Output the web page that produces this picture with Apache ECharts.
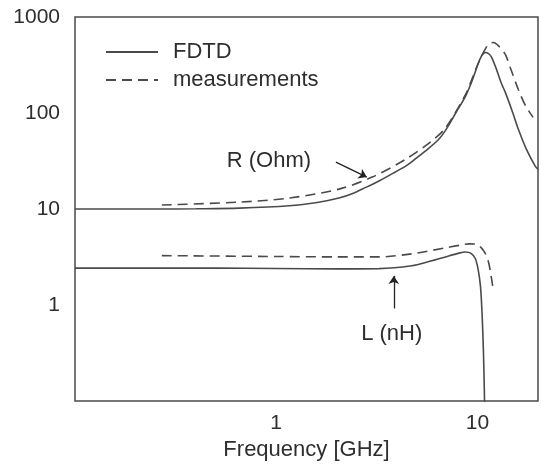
<!DOCTYPE html>
<html><head><meta charset="utf-8">
<script src="https://cdn.jsdelivr.net/npm/echarts@6/dist/echarts.min.js"></script>
<style>html,body{margin:0;padding:0;background:#fff}#c{width:541px;height:472px}</style>
</head><body><div id="c"></div>
<script>
// Frequency [GHz] and values
var rFdtdF = [0.1, 0.25, 0.4, 0.656, 1.16, 1.6, 2.05, 2.4, 2.79, 3.24, 3.8, 4.4, 4.71, 5.5, 6.41, 6.94, 7.8, 8.72, 9.4, 10.1, 10.5, 10.95, 11.35, 11.73, 12.4, 13.1, 13.76, 15.0, 15.96, 17.5, 19.37, 20];
var rFdtdV = [10, 10, 10.05, 10.2, 10.8, 11.7, 13.0, 14.5, 16.8, 19.6, 23.5, 28, 31, 40, 53, 66, 100, 149, 215, 330, 395, 427, 415, 385, 290, 208, 164, 100, 68, 42, 28, 26];
var rMeasF = [0.27, 0.66, 1.16, 2.05, 3.0, 4.4, 5.92, 6.94, 8.72, 9.5, 10.1, 10.8, 11.34, 12.0, 12.8, 13.76, 14.8, 15.96, 17.3, 18.9];
var rMeasV = [11.0, 11.8, 13.0, 16.1, 21.5, 33, 51, 70, 155, 240, 330, 440, 517, 542, 495, 407, 270, 176, 120, 90];
var lFdtdF = [0.1, 0.5, 1, 2, 3.24, 4.71, 5.8, 6.94, 8.0, 8.72, 9.3, 9.77, 10.1, 10.35, 10.55, 10.71, 10.83, 10.9];
var lFdtdV = [2.42, 2.42, 2.40, 2.38, 2.39, 2.56, 2.85, 3.17, 3.45, 3.57, 3.45, 3.03, 2.3, 1.58, 0.8, 0.33, 0.12, 0.05];
var lMeasF = [0.27, 1, 2, 3.24, 4.71, 6.94, 8.2, 9.1, 9.9, 10.35, 10.9, 11.34, 11.7, 12.0];
var lMeasV = [3.27, 3.2, 3.17, 3.17, 3.41, 3.94, 4.2, 4.33, 4.3, 4.03, 3.5, 2.82, 2.0, 1.41];
var xTickLabels = ['1', '10'];
var yTickLabels = ['1', '10', '100', '1000'];
var seriesNames = ['FDTD', 'measurements'];
var annoR = {text: 'R (Ohm)', at: [0.92, 31.5], from: [1.98, 30.8], to: [2.82, 21.5]};
var annoL = {text: 'L (nH)', at: [3.75, 0.5], from: [3.84, 0.92], to: [3.84, 2.01]};

function zip(a, b) { return a.map(function (v, i) { return [v, b[i]]; }); }
function fmt(v) { return String(Math.round(v * 1000) / 1000); }
var col = '#4a4a4a';
var txt = '#2e2e2e';
var font = 'Liberation Sans, Arial, sans-serif';
var solid = {color: col, width: 1.6, type: 'solid'};
var dashed = {color: col, width: 1.6, type: [10, 6]};

var chart = echarts.init(document.getElementById('c'), null, {renderer: 'canvas'});
chart.setOption({
  animation: false,
  backgroundColor: '#ffffff',
  grid: {left: 75, top: 17, right: 3, bottom: 71, show: true, borderColor: col, borderWidth: 1.5, backgroundColor: 'transparent'},
  legend: {
    left: 105, top: 41, orient: 'vertical', itemGap: 6, itemWidth: 52, itemHeight: 14, padding: 0,
    data: seriesNames,
    itemStyle: {color: 'rgba(0,0,0,0)', borderColor: 'rgba(0,0,0,0)', borderWidth: 0, opacity: 0},
    textStyle: {fontFamily: font, fontSize: 22, color: txt, padding: [0, 0, 0, 10]}
  },
  xAxis: {
    type: 'log', logBase: 10, min: 0.1, max: 20,
    name: 'Frequency [GHz]', nameLocation: 'middle', nameGap: 38,
    nameTextStyle: {fontFamily: font, fontSize: 22, color: txt},
    axisLine: {show: false}, axisTick: {show: false}, splitLine: {show: false},
    axisLabel: {fontFamily: font, fontSize: 21, color: txt, margin: 12,
      formatter: function (v) { var s = fmt(v); return xTickLabels.indexOf(s) >= 0 ? s : ''; }}
  },
  yAxis: {
    type: 'log', logBase: 10, min: 0.1, max: 1000,
    axisLine: {show: false}, axisTick: {show: false}, splitLine: {show: false},
    axisLabel: {fontFamily: font, fontSize: 21, color: txt, margin: 15,
      formatter: function (v) { var s = fmt(v); return yTickLabels.indexOf(s) >= 0 ? s : ''; }}
  },
  series: [
    {name: seriesNames[0], type: 'line', data: zip(rFdtdF, rFdtdV), symbol: 'none', smooth: 0.3, lineStyle: solid, itemStyle: {color: col}, clip: true,
      markLine: {silent: true, symbol: ['none', 'arrow'], symbolSize: 8, lineStyle: {color: '#222', width: 1.3, type: 'solid'}, label: {show: false},
        data: [[{coord: annoR.from}, {coord: annoR.to}], [{coord: annoL.from}, {coord: annoL.to}]]},
      markPoint: {silent: true, symbol: 'circle', symbolSize: 0,
        label: {show: true, position: 'inside', fontFamily: font, fontSize: 22, color: txt, formatter: function (p) { return p.name; }},
        data: [{name: annoR.text, coord: annoR.at}, {name: annoL.text, coord: annoL.at}]}
    },
    {name: seriesNames[1], type: 'line', data: zip(rMeasF, rMeasV), symbol: 'none', smooth: 0.3, lineStyle: dashed, itemStyle: {color: col}, clip: true},
    {name: seriesNames[0], type: 'line', data: zip(lFdtdF, lFdtdV), symbol: 'none', smooth: 0.3, lineStyle: solid, itemStyle: {color: col}, clip: true},
    {name: seriesNames[1], type: 'line', data: zip(lMeasF, lMeasV), symbol: 'none', smooth: 0.3, lineStyle: dashed, itemStyle: {color: col}, clip: true}
  ]
});
</script></body></html>
